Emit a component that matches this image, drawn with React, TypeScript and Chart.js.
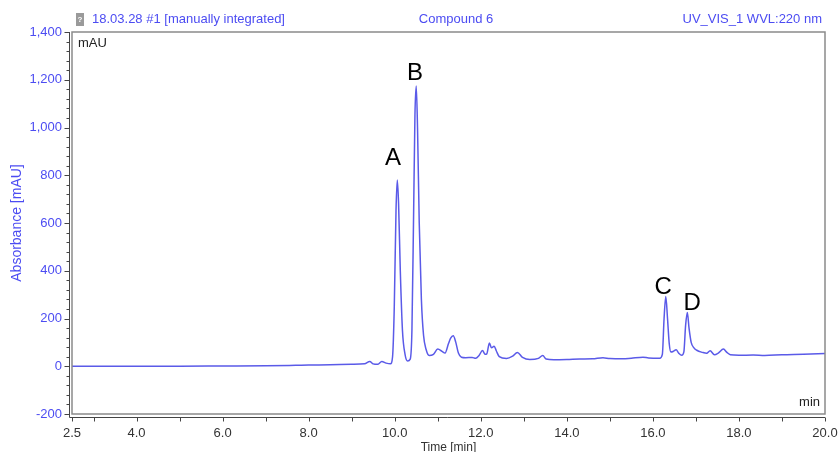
import { useEffect, useRef } from 'react';
import { Chart, registerables } from 'chart.js';

Chart.register(...registerables);

// Chromatogram trace (time in min, absorbance in mAU)
const times = [
  2.5, 3.0, 4.0, 5.0, 6.0, 7.0, 7.7, 8.0, 8.5, 9.0, 9.3, 9.42, 9.5, 9.6, 9.7, 9.8, 9.9,
  9.95, 9.99, 10.03, 10.06, 10.09, 10.13, 10.18, 10.24, 10.3, 10.36, 10.4, 10.44, 10.47,
  10.5, 10.53, 10.57, 10.62, 10.67, 10.73, 10.8, 10.9, 11.0, 11.1, 11.17, 11.25, 11.3,
  11.36, 11.42, 11.48, 11.55, 11.65, 11.8, 11.88, 11.96, 12.04, 12.1, 12.14, 12.2, 12.25,
  12.31, 12.36, 12.43, 12.6, 12.74, 12.85, 12.97, 13.14, 13.34, 13.44, 13.52, 13.7, 14.0,
  14.3, 14.6, 14.84, 15.0, 15.3, 15.5, 15.77, 15.9, 16.16, 16.22, 16.26, 16.3, 16.34,
  16.38, 16.42, 16.47, 16.54, 16.6, 16.67, 16.72, 16.76, 16.8, 16.84, 16.89, 16.95, 17.02,
  17.15, 17.25, 17.33, 17.43, 17.52, 17.64, 17.72, 17.8, 18.0, 18.33, 18.6, 19.0, 19.5, 20.0,
];
const absorbance = [
  0, 0, 0, 0, 1, 2, 4, 5, 6, 8, 10, 20, 10, 8, 20, 13, 10,
  40, 250, 650, 780, 680, 400, 150, 50, 22, 30, 150, 650, 1050,
  1174, 1000, 600, 280, 130, 70, 45, 50, 72, 62, 55, 95, 118,
  128, 100, 55, 38, 36, 37, 33, 45, 66, 50, 52, 97, 77,
  84, 65, 40, 32, 42, 58, 37, 28, 33, 45, 30, 27, 28,
  30, 31, 36, 32, 31, 34, 38, 35, 34, 50, 200, 292, 200,
  95, 60, 62, 69, 55, 46, 60, 170, 225, 160, 100, 78, 67,
  58, 54, 65, 48, 55, 72, 58, 48, 46, 47, 45, 48, 50, 53,
];

// Axis ticks
const xTicks = [2.5, 3, 4, 5, 6, 7, 8, 9, 10, 11, 12, 13, 14, 15, 16, 17, 18, 19, 20];
const xLabelTicks = [2.5, 4, 6, 8, 10, 12, 14, 16, 18, 20];
const yMin = -200;
const yMax = 1400;
const yMajorStep = 200;
const yMinorStep = 40;

// Peak annotations
const peakLabels = ['A', 'B', 'C', 'D'];
const peakLabelTimes = [9.96, 10.47, 16.24, 16.91];
const peakLabelValues = [869, 1228, 329, 262];

// Header texts
const headerLeft = '18.03.28 #1 [manually integrated]';
const headerCenter = 'Compound 6';
const headerRight = 'UV_VIS_1 WVL:220 nm';

const FONT = 'Arial, "Liberation Sans", sans-serif';
const BLUE = '#4c4cf2';
const LINE = '#5a5ae8';

const decorPlugin = {
  id: 'decor',
  afterDraw(chart: any) {
    const { ctx, chartArea: a, scales } = chart;
    const xs = scales.x;
    const ys = scales.y;
    ctx.save();

    // plot box
    ctx.strokeStyle = '#8a8a8a';
    ctx.lineWidth = 1.5;
    ctx.strokeRect(a.left, a.top, a.right - a.left, a.bottom - a.top);

    // outer axis lines
    ctx.strokeStyle = '#444';
    ctx.lineWidth = 1;
    const ax = Math.round(a.left - 3) + 0.5;
    const ay = Math.round(a.bottom + 3) + 0.5;
    ctx.beginPath();
    ctx.moveTo(ax, a.top);
    ctx.lineTo(ax, ay);
    ctx.lineTo(a.right, ay);
    ctx.stroke();

    // y ticks (major and minor)
    ctx.beginPath();
    for (let v = yMin; v <= yMax; v += yMinorStep) {
      const py = Math.round(ys.getPixelForValue(v)) + 0.5;
      const len = v % yMajorStep === 0 ? 5 : 3;
      ctx.moveTo(ax, py);
      ctx.lineTo(ax - len, py);
    }
    // x ticks
    for (const v of xTicks) {
      const px = Math.round(xs.getPixelForValue(v)) + 0.5;
      ctx.moveTo(px, ay);
      ctx.lineTo(px, ay + 4);
    }
    ctx.stroke();

    // header
    ctx.fillStyle = BLUE;
    ctx.font = `13px ${FONT}`;
    ctx.textBaseline = 'middle';
    ctx.textAlign = 'left';
    ctx.fillText(headerLeft, 92, 19);
    ctx.textAlign = 'center';
    ctx.fillText(headerCenter, 456, 19);
    ctx.textAlign = 'right';
    ctx.fillText(headerRight, 822, 19);

    // small document icon
    ctx.fillStyle = '#9a9a9a';
    ctx.fillRect(76, 13, 8, 13);
    ctx.fillStyle = '#ffffff';
    ctx.font = `bold 8px ${FONT}`;
    ctx.textAlign = 'center';
    ctx.fillText('?', 80, 20);

    // unit labels inside the box
    ctx.fillStyle = '#222';
    ctx.font = `13px ${FONT}`;
    ctx.textAlign = 'left';
    ctx.fillText('mAU', a.left + 6, a.top + 11);
    ctx.textAlign = 'right';
    ctx.fillText('min', a.right - 5, a.bottom - 12);

    // peak labels
    ctx.fillStyle = '#000';
    ctx.font = `24px ${FONT}`;
    ctx.textAlign = 'center';
    ctx.textBaseline = 'middle';
    peakLabels.forEach((lab, i) => {
      ctx.fillText(lab, xs.getPixelForValue(peakLabelTimes[i]), ys.getPixelForValue(peakLabelValues[i]));
    });

    ctx.restore();
  },
};

export default function App() {
  const canvasRef = useRef<HTMLCanvasElement | null>(null);

  useEffect(() => {
    if (!canvasRef.current) return;
    const chart = new Chart(canvasRef.current, {
      type: 'line',
      data: {
        datasets: [
          {
            data: times.map((t, i) => ({ x: t, y: absorbance[i] })),
            borderColor: LINE,
            borderWidth: 1.5,
            pointRadius: 0,
            fill: false,
            cubicInterpolationMode: 'monotone',
          },
        ],
      },
      options: {
        animation: false,
        responsive: true,
        maintainAspectRatio: false,
        layout: { padding: { top: 32, right: 14, left: 0, bottom: 0 } },
        plugins: { legend: { display: false }, tooltip: { enabled: false } },
        scales: {
          x: {
            type: 'linear',
            min: 2.5,
            max: 20,
            afterBuildTicks: (s: any) => {
              s.ticks = xTicks.map((v) => ({ value: v }));
            },
            afterFit: (s: any) => {
              s.height = 38;
              s.paddingLeft = 0;
              s.paddingRight = 0;
            },
            grid: { display: false, drawTicks: false },
            border: { display: false },
            ticks: {
              autoSkip: false,
              maxRotation: 0,
              padding: 12,
              color: '#333',
              font: { family: FONT, size: 13 },
              callback: (v: any) => (xLabelTicks.includes(Number(v)) ? Number(v).toFixed(1) : ''),
            },
            title: {
              display: true,
              text: 'Time [min]',
              color: '#333',
              font: { family: FONT, size: 12, lineHeight: 0.75 },
              padding: { top: 0, bottom: 0 },
            },
          },
          y: {
            type: 'linear',
            min: yMin,
            max: yMax,
            afterFit: (s: any) => {
              s.width = 72;
              s.paddingTop = 0;
              s.paddingBottom = 0;
            },
            grid: { display: false, drawTicks: false },
            border: { display: false },
            ticks: {
              stepSize: yMajorStep,
              padding: 10,
              color: BLUE,
              font: { family: FONT, size: 13 },
              callback: (v: any) => Number(v).toLocaleString('en-US'),
            },
            title: {
              display: true,
              text: 'Absorbance [mAU]',
              color: BLUE,
              font: { family: FONT, size: 14, lineHeight: 1.2 },
              padding: { top: 9, bottom: 0 },
            },
          },
        },
      },
      plugins: [decorPlugin],
    });
    return () => chart.destroy();
  }, []);

  return (
    <div style={{ position: 'fixed', left: 0, top: 0, width: 839, height: 452, background: '#fff' }}>
      <canvas ref={canvasRef} />
    </div>
  );
}
